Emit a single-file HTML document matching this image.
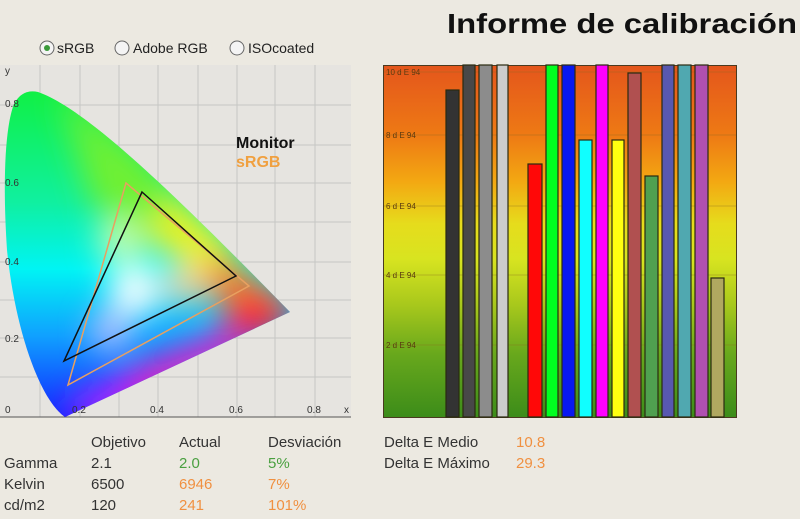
<!DOCTYPE html>
<html><head><meta charset="utf-8"><style>
html,body{margin:0;padding:0;background:#ece9e1;}
svg{display:block}
text{font-family:"Liberation Sans",sans-serif}
</style></head><body>
<svg width="800" height="519" viewBox="0 0 800 519" xmlns="http://www.w3.org/2000/svg">
<defs>
<linearGradient id="bg" x1="0" y1="0" x2="0" y2="1">
<stop offset="0" stop-color="#e4561c"/>
<stop offset="0.2" stop-color="#ee7a14"/>
<stop offset="0.33" stop-color="#f3a812"/>
<stop offset="0.45" stop-color="#e6dc1c"/>
<stop offset="0.55" stop-color="#d8e420"/>
<stop offset="0.68" stop-color="#a8c81c"/>
<stop offset="0.82" stop-color="#68a81c"/>
<stop offset="1" stop-color="#3c8c1a"/>
</linearGradient>
<linearGradient id="base" x1="0" y1="0" x2="0" y2="1">
<stop offset="0" stop-color="#10f040"/>
<stop offset="0.35" stop-color="#10f0a0"/>
<stop offset="0.55" stop-color="#00f4f4"/>
<stop offset="0.75" stop-color="#10a0ff"/>
<stop offset="1" stop-color="#1020ff"/>
</linearGradient>
<clipPath id="loc"><path d="M65,417 C40,400 15,330 7,250 C3,190 4,130 14,104 C20,93 28,90 38,92 C90,110 190,210 290,312 L65,417 Z"/></clipPath>
<filter id="bl" x="-50%" y="-50%" width="200%" height="200%"><feGaussianBlur stdDeviation="16"/></filter>
</defs>
<g font-size="14" fill="#222">
<circle cx="47" cy="48" r="7" fill="#f4f4f4" stroke="#666"/><circle cx="47" cy="48" r="3" fill="#3a9a3a"/>
<text x="57" y="53">sRGB</text>
<circle cx="122" cy="48" r="7" fill="#f4f4f4" stroke="#666"/>
<text x="133" y="53">Adobe RGB</text>
<circle cx="237" cy="48" r="7" fill="#f4f4f4" stroke="#666"/>
<text x="248" y="53">ISOcoated</text>
</g>
<rect x="0" y="65" width="351" height="352" fill="#e6e4e0"/>
<g stroke="#c6c6c4" stroke-width="1">
<line x1="40" y1="65" x2="40" y2="417"/><line x1="80" y1="65" x2="80" y2="417"/><line x1="119" y1="65" x2="119" y2="417"/><line x1="158" y1="65" x2="158" y2="417"/><line x1="198" y1="65" x2="198" y2="417"/><line x1="237" y1="65" x2="237" y2="417"/><line x1="275" y1="65" x2="275" y2="417"/><line x1="315" y1="65" x2="315" y2="417"/>
<line x1="0" y1="105" x2="351" y2="105"/><line x1="0" y1="145" x2="351" y2="145"/><line x1="0" y1="183" x2="351" y2="183"/><line x1="0" y1="222" x2="351" y2="222"/><line x1="0" y1="262" x2="351" y2="262"/><line x1="0" y1="300" x2="351" y2="300"/><line x1="0" y1="338" x2="351" y2="338"/><line x1="0" y1="377" x2="351" y2="377"/>
</g>
<line x1="0" y1="417" x2="351" y2="417" stroke="#555"/>
<g clip-path="url(#loc)">
<rect x="0" y="85" width="300" height="335" fill="url(#base)"/>
<g filter="url(#bl)">
<polygon points="60,90 150,160 200,230 150,250 90,200" fill="#70f030"/>
<polygon points="170,190 240,250 200,275 150,240" fill="#f0f020"/>
<polygon points="220,250 300,310 250,320 200,290" fill="#ff8020"/>
<polygon points="240,290 300,310 260,340 220,330" fill="#ff1030"/>
<polygon points="110,380 230,330 250,350 120,420" fill="#f020c0"/>
<polygon points="70,400 140,370 120,420 70,420" fill="#b020ff"/>
<circle cx="135" cy="290" r="26" fill="#ffffff"/>
<circle cx="185" cy="285" r="20" fill="#ffd0a0"/>
<circle cx="110" cy="330" r="18" fill="#e0c0ff"/>
<circle cx="120" cy="240" r="22" fill="#d0ffb0"/>
</g>
</g>
<polygon points="126,183 249,286 68,385" fill="none" stroke="#e8a060" stroke-width="1.5"/>
<polygon points="142,192 236,276 64,361" fill="none" stroke="#111" stroke-width="1.5"/>
<text x="236" y="148" font-size="16" font-weight="bold" fill="#111">Monitor</text>
<text x="236" y="167" font-size="16" font-weight="bold" fill="#f0a040">sRGB</text>
<g font-size="10" fill="#333">
<text x="5" y="74">y</text>
<text x="5" y="107">0.8</text><text x="5" y="186">0.6</text><text x="5" y="265">0.4</text><text x="5" y="342">0.2</text><text x="5" y="413">0</text>
<text x="72" y="413">0.2</text><text x="150" y="413">0.4</text><text x="229" y="413">0.6</text><text x="307" y="413">0.8</text><text x="344" y="413">x</text>
</g>
<text x="447" y="33" font-size="28" font-weight="bold" fill="#111" textLength="350" lengthAdjust="spacingAndGlyphs">Informe de calibración</text>
<rect x="383.5" y="65.5" width="353" height="352" fill="url(#bg)" stroke="#4a3a20"/>
<g stroke="#8a6a20" stroke-opacity="0.35">
<line x1="384" y1="72" x2="736" y2="72"/><line x1="384" y1="135" x2="736" y2="135"/><line x1="384" y1="206" x2="736" y2="206"/><line x1="384" y1="275" x2="736" y2="275"/><line x1="384" y1="345" x2="736" y2="345"/>
</g>
<g font-size="8" fill="#5a3a10">
<text x="386" y="75">10 d E 94</text><text x="386" y="138">8 d E 94</text><text x="386" y="209">6 d E 94</text><text x="386" y="278">4 d E 94</text><text x="386" y="348">2 d E 94</text>
</g>
<g stroke="#2a2a10" stroke-width="1.2">
<rect x="446" y="90" width="13" height="327" fill="#333"/>
<rect x="463" y="65" width="12" height="352" fill="#484848"/>
<rect x="479" y="65" width="13" height="352" fill="#8c8c8c"/>
<rect x="497" y="65" width="11" height="352" fill="#cccccc"/>
<rect x="528" y="164" width="14" height="253" fill="#ff0808"/>
<rect x="546" y="65" width="12" height="352" fill="#00ff20"/>
<rect x="562" y="65" width="13" height="352" fill="#0818f0"/>
<rect x="579" y="140" width="13" height="277" fill="#10ffff"/>
<rect x="596" y="65" width="12" height="352" fill="#ff00ff"/>
<rect x="612" y="140" width="12" height="277" fill="#ffff10"/>
<rect x="628" y="73" width="13" height="344" fill="#b05050"/>
<rect x="645" y="176" width="13" height="241" fill="#50a050"/>
<rect x="662" y="65" width="12" height="352" fill="#5858b0"/>
<rect x="678" y="65" width="13" height="352" fill="#50a8b0"/>
<rect x="695" y="65" width="13" height="352" fill="#b050b0"/>
<rect x="711" y="278" width="13" height="139" fill="#b0a860"/>
</g>
<g font-size="15" fill="#333">
<text x="91" y="447">Objetivo</text><text x="179" y="447">Actual</text><text x="268" y="447">Desviación</text>
<text x="4" y="468">Gamma</text><text x="91" y="468">2.1</text><text x="179" y="468" fill="#4aa040">2.0</text><text x="268" y="468" fill="#4aa040">5%</text>
<text x="4" y="489">Kelvin</text><text x="91" y="489">6500</text><text x="179" y="489" fill="#f09040">6946</text><text x="268" y="489" fill="#f09040">7%</text>
<text x="4" y="510">cd/m2</text><text x="91" y="510">120</text><text x="179" y="510" fill="#f09040">241</text><text x="268" y="510" fill="#f09040">101%</text>
<text x="384" y="447">Delta E Medio</text><text x="384" y="468">Delta E Máximo</text>
<text x="516" y="447" fill="#f09040">10.8</text><text x="516" y="468" fill="#f09040">29.3</text>
</g>
</svg>
</body></html>
